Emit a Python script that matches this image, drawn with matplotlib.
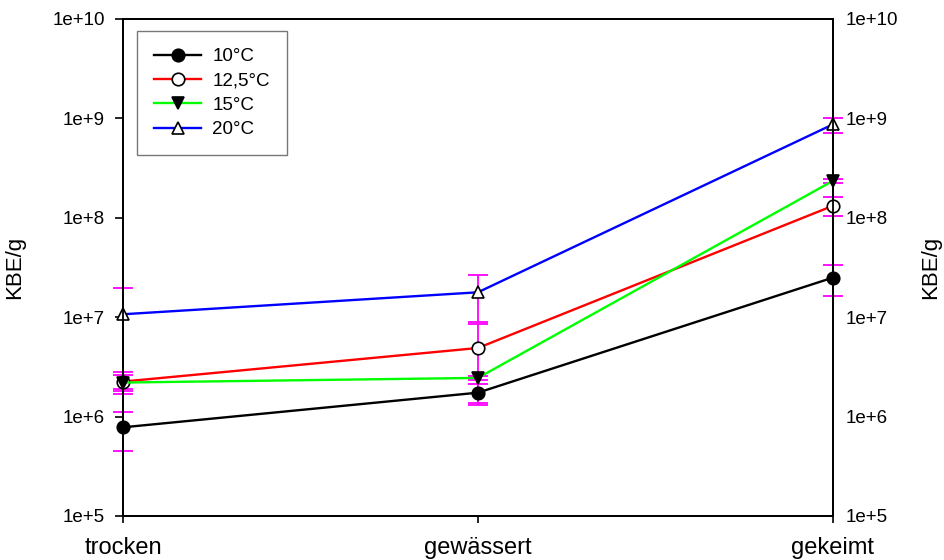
import math
import matplotlib
matplotlib.use("Agg")
import matplotlib.pyplot as plt
from matplotlib.ticker import FixedLocator, FuncFormatter, NullLocator

plt.rcParams['font.family'] = ['Liberation Sans', 'DejaVu Sans']

categories = ["trocken", "gewässert", "gekeimt"]
series_names = ["10°C", "12,5°C", "15°C", "20°C"]
values_10 = [7.8e5, 1.74e6, 2.5e7]
values_125 = [2.25e6, 4.9e6, 1.32e8]
values_15 = [2.2e6, 2.45e6, 2.35e8]
values_20 = [1.07e7, 1.78e7, 8.7e8]
err_10 = [3.3e5, 3.8e5, 8.7e6]
err_125 = [5.5e5, 3.6e6, 2.8e7]
err_15 = [4.0e5, 1.2e5, 1.0e7]
err_20 = [8.8e6, 8.8e6, 1.5e8]
y_ticks = [1e5, 1e6, 1e7, 1e8, 1e9, 1e10]

values = [values_10, values_125, values_15, values_20]
errors = [err_10, err_125, err_15, err_20]
colors = ["#000000", "#ff0000", "#00ff00", "#0000ff"]
markers = ["o", "o", "v", "^"]
faces = ["black", "white", "black", "white"]

fig = plt.figure(figsize=(9.44, 5.6), dpi=100)
ax = fig.add_axes([0.1303, 0.0786, 0.752, 0.8875])
x = list(range(len(categories)))

for v, e in zip(values, errors):
    ax.errorbar(x, v, yerr=e, fmt="none", ecolor="#ff00ff", elinewidth=1.3,
                capsize=7, capthick=1.3, zorder=1, clip_on=False)
for v, c, m, f, n in zip(values, colors, markers, faces, series_names):
    ax.plot(x, v, color=c, linewidth=1.7, marker=m, markersize=9,
            markerfacecolor=f, markeredgecolor="black", markeredgewidth=1.2,
            label=n, zorder=3, clip_on=False)

fmt = FuncFormatter(lambda val, pos: "1e+%d" % round(math.log10(val)))

ax.set_yscale("log")
ax.set_ylim(1e5, 1e10)
ax.set_xlim(0, 2)
ax.yaxis.set_major_locator(FixedLocator(y_ticks))
ax.yaxis.set_major_formatter(fmt)
ax.yaxis.set_minor_locator(NullLocator())
ax.set_xticks(x)
ax.set_xticklabels(categories, fontsize=17)
ax.tick_params(axis="y", labelsize=13.5, length=6, width=1.2, pad=7, direction="out")
ax.tick_params(axis="x", length=5, width=1.2, pad=10, direction="out")
ax.set_ylabel("KBE/g", fontsize=16, labelpad=20)
for s in ax.spines.values():
    s.set_linewidth(1.3)

ax2 = ax.twinx()
ax2.set_yscale("log")
ax2.set_ylim(1e5, 1e10)
ax2.yaxis.set_major_locator(FixedLocator(y_ticks))
ax2.yaxis.set_major_formatter(fmt)
ax2.yaxis.set_minor_locator(NullLocator())
ax2.tick_params(axis="y", labelsize=13.5, length=0, pad=9)
ax2.set_ylabel("KBE/g", fontsize=16, labelpad=16)
for s in ax2.spines.values():
    s.set_linewidth(1.3)

leg = ax.legend(loc="upper left", bbox_to_anchor=(0.02, 0.975), fontsize=13.5,
                frameon=True, fancybox=False, edgecolor="#555555",
                handlelength=2.5, borderpad=0.9, labelspacing=0.38,
                handletextpad=0.6, borderaxespad=0)
leg.get_frame().set_linewidth(1.0)

fig.savefig("out.png", dpi=100)
